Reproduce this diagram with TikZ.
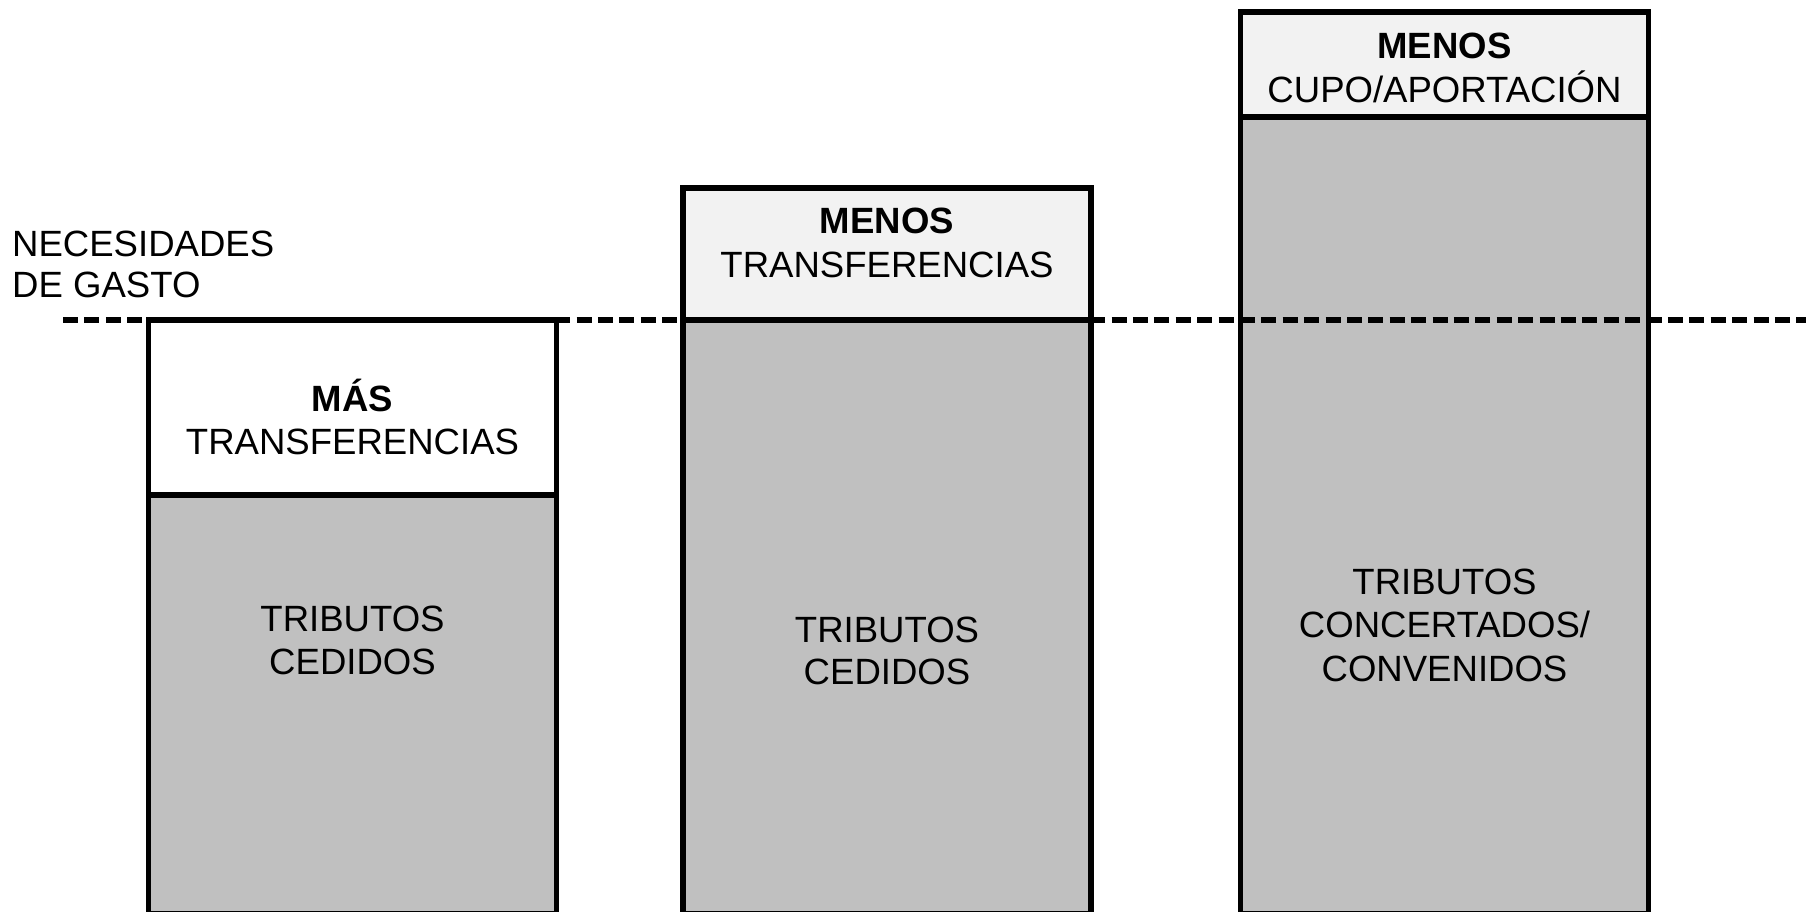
\documentclass[tikz,border=0pt]{standalone}
\usepackage{fontspec}
\setmainfont{Liberation Sans}
\usepackage{xcolor}
\usepackage{tikz}
\usetikzlibrary{positioning}

\definecolor{tribgray}{HTML}{C0C0C0}
\definecolor{paleband}{HTML}{F2F2F2}

\begin{document}
\begin{tikzpicture}[node distance=0pt,
        part/.style={draw=black,line width=1.7pt,outer sep=0pt,inner sep=0pt,minimum width=4.08cm},
        tributo/.style={part,fill=tribgray},
        txt/.style={anchor=base,inner sep=0pt,font=\fontsize{10.4}{12.2}\selectfont}]

      \useasboundingbox (0,0) rectangle (18.06,9.12);

      % column 1: common regime, transfers added
      \node[part,fill=white,minimum height=1.75cm,anchor=north] (top1) at (3.525,5.92) {};
      \node[tributo,minimum height=4.19cm,below=of top1] (base1) {};
      % column 2: common regime, transfers subtracted
      \node[part,fill=paleband,minimum height=1.32cm,anchor=north] (top2) at (8.87,7.24) {};
      \node[tributo,minimum height=5.94cm,below=of top2] (base2) {};
      % column 3: foral regime
      \node[part,fill=paleband,minimum height=1.05cm,anchor=north] (top3) at (14.445,9.00) {};
      \node[tributo,minimum height=7.97cm,below=of top3] (base3) {};

      \node[txt,anchor=base west] (ng1) at (0.115,6.55) {NECESIDADES};
      \node[txt,anchor=base west] (ng2) at (0.115,6.14) {DE GASTO};

      \node[txt] (mas)   at (3.525,5.00) {\textbf{MÁS}};
      \node[txt] (tr1)   at (3.525,4.57) {TRANSFERENCIAS};
      \node[txt] (trib1) at (3.525,2.80) {TRIBUTOS};
      \node[txt] (ced1)  at (3.525,2.37) {CEDIDOS};

      \node[txt] (men2)  at (8.87,6.78) {\textbf{MENOS}};
      \node[txt] (tr2)   at (8.87,6.34) {TRANSFERENCIAS};
      \node[txt] (trib2) at (8.87,2.69) {TRIBUTOS};
      \node[txt] (ced2)  at (8.87,2.27) {CEDIDOS};

      \node[txt] (men3)  at (14.445,8.53) {\textbf{MENOS}};
      \node[txt] (cupo)  at (14.445,8.09) {CUPO/APORTACIÓN};
      \node[txt] (trib3) at (14.445,3.17) {TRIBUTOS};
      \node[txt] (conc)  at (14.445,2.74) {CONCERTADOS/};
      \node[txt] (conv)  at (14.445,2.30) {CONVENIDOS};

      % spending needs level
      \coordinate (lvlL) at (0.63,5.92);
      \coordinate (lvlR) at (18.06,5.92);
      \draw[line width=1.7pt,dash pattern=on 0.15cm off 0.064cm] (lvlL) -- (lvlR);
    \end{tikzpicture}
\end{document}
